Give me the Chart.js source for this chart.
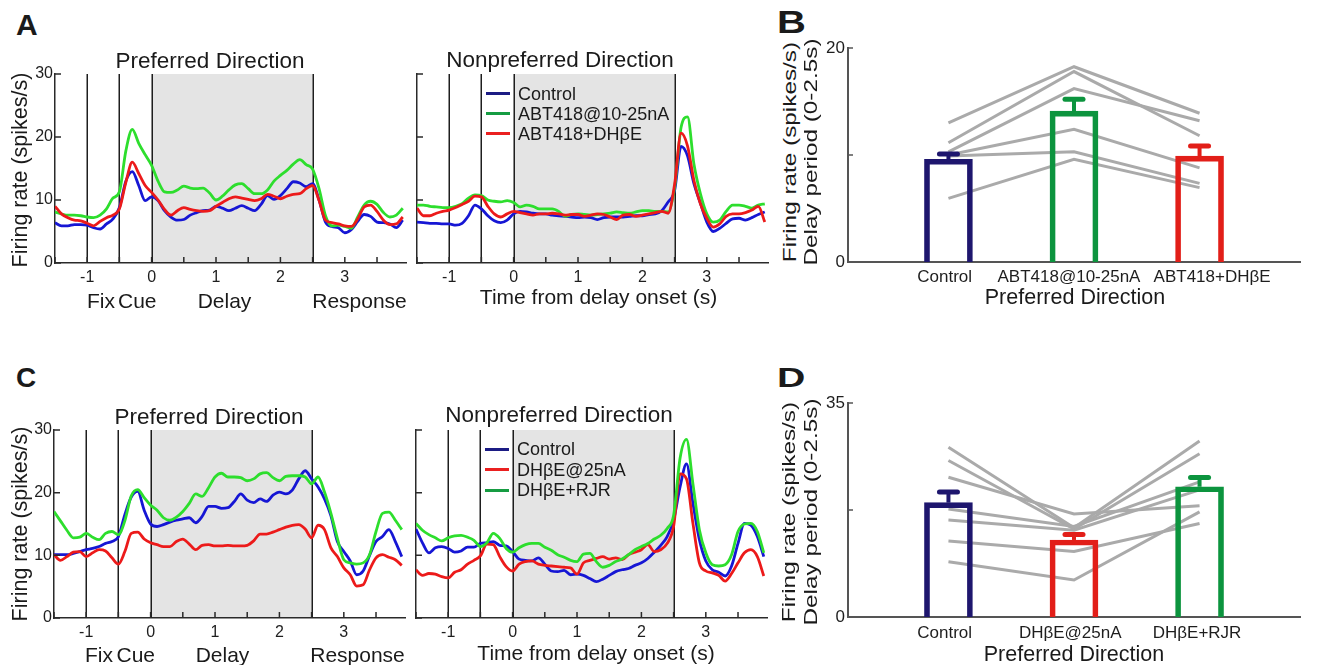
<!DOCTYPE html>
<html><head><meta charset="utf-8">
<script src="https://cdn.jsdelivr.net/npm/chart.js@4.4.0/dist/chart.umd.min.js"></script>
<style>
html,body{margin:0;padding:0;background:#fff;}
#fig{position:relative;width:1330px;height:665px;overflow:hidden;background:#fff;font-family:"Liberation Sans",Arial,Helvetica,sans-serif;color:#1a1a1a;}
#fig canvas{position:absolute;}
.t{position:absolute;white-space:nowrap;line-height:1;}
.sw{position:absolute;height:3px;}
</style></head><body><div id="fig"></div>
<script>
// ---------------- data ----------------
const TIME_S = [-1.5,-1.4,-1.3,-1.2,-1.1,-1.0,-0.9,-0.8,-0.7,-0.6,-0.5,-0.4,-0.3,-0.2,-0.1,0,
  0.1,0.2,0.3,0.4,0.5,0.6,0.7,0.8,0.9,1.0,1.1,1.2,1.3,1.4,1.5,1.6,1.7,1.8,1.9,2.0,
  2.1,2.2,2.3,2.4,2.5,2.6,2.7,2.8,2.9,3.0,3.1,3.2,3.3,3.4,3.5,3.6,3.7,3.8,3.9];

// Panel A, preferred direction
const A_PREF_CONTROL = [6.4,5.9,5.9,6.1,6.1,6.0,5.6,5.4,6.2,7.0,8.8,13.0,14.5,12.3,9.9,10.5,
  9.9,8.3,7.3,6.8,6.9,7.6,8.0,8.3,8.4,9.0,8.7,8.3,8.7,9.1,8.7,8.3,9.3,10.7,10.1,10.7,
  11.8,12.9,12.7,12.1,12.6,10.0,6.5,5.8,5.6,4.8,5.3,6.6,7.7,7.4,6.5,6.4,6.2,5.6,6.8];
const A_PREF_ABT418 = [8.1,7.8,7.6,7.6,7.5,7.3,7.2,7.6,8.6,10.3,11.3,17.8,21.2,19.0,17.2,15.5,
  13.0,11.3,11.2,11.6,12.2,11.9,11.8,11.9,11.1,10.0,10.6,11.6,12.4,12.6,11.8,11.0,11.0,11.6,13.0,13.9,
  14.7,15.7,16.4,15.6,14.9,11.8,7.5,5.9,6.0,5.8,5.5,7.3,9.2,9.8,9.3,8.0,7.3,7.6,8.7];
const A_PREF_ABT418_DHBE = [9.0,7.8,7.2,6.8,6.7,6.3,5.9,6.6,7.2,7.6,8.6,12.8,16.0,14.2,12.3,11.2,
  10.0,8.5,7.6,8.3,8.8,8.5,8.3,8.2,8.3,9.0,9.6,10.2,10.5,10.3,10.1,9.9,10.2,10.9,10.6,10.2,
  10.6,10.9,11.0,11.8,12.3,9.9,6.8,6.4,6.2,5.9,5.8,7.0,8.9,9.2,8.2,6.8,6.1,6.2,7.3];

// Panel A, nonpreferred direction
const A_NONPREF_CONTROL = [6.5,6.4,6.3,6.3,6.2,6.2,6.0,6.3,7.5,9.2,8.6,7.5,6.7,6.4,6.8,7.8,
  8.2,8.1,7.9,7.8,7.8,7.6,7.5,7.4,7.3,7.2,7.3,7.2,6.9,7.2,7.3,7.3,7.3,7.4,7.5,7.5,
  7.7,7.8,8.3,9.7,11.5,18.5,17.0,12.6,9.5,6.5,5.0,5.5,6.3,7.0,7.1,6.8,7.2,7.7,8.1];
const A_NONPREF_ABT418 = [9.2,9.2,9.0,8.9,8.8,8.8,9.0,9.4,10.3,10.8,10.7,10.0,9.8,9.7,9.9,9.6,
  8.9,9.2,9.0,8.6,8.6,8.6,8.2,7.4,7.7,7.8,7.7,7.6,7.7,7.8,7.9,8.1,8.0,7.9,8.1,8.3,
  8.3,8.2,8.2,8.1,12.0,21.5,23.2,15.7,11.0,7.8,6.5,6.8,8.2,9.2,9.2,9.0,8.7,9.2,9.4];
const A_NONPREF_ABT418_DHBE = [8.7,7.5,7.5,7.9,8.2,8.4,8.8,9.3,9.8,10.6,10.5,9.0,7.8,7.3,7.8,8.2,
  8.0,7.8,7.6,7.8,7.8,7.9,7.8,7.6,7.7,7.7,7.4,7.6,7.8,7.7,7.3,6.9,7.6,7.7,7.4,7.6,
  7.8,8.0,8.2,7.9,12.5,20.6,18.6,13.1,9.4,7.1,5.7,6.2,7.4,7.8,7.8,8.0,8.4,9.0,6.5];

// Panel C, preferred direction
const C_PREF_CONTROL = [10.1,10.1,10.1,10.3,10.6,10.9,11.1,11.4,11.9,12.2,13.0,16.5,19.3,20.2,17.2,15.0,
  14.6,14.9,15.3,15.6,15.8,16.0,15.2,16.2,17.8,17.8,17.5,17.6,18.6,19.8,18.8,18.4,19.0,18.6,19.6,20.1,
  19.8,20.4,22.2,23.5,22.2,20.9,19.0,16.3,12.2,10.6,9.1,6.9,7.5,10.0,12.2,13.0,14.1,12.2,9.8];
const C_PREF_DHBE = [10.1,9.2,9.8,10.5,10.6,9.8,10.4,10.9,10.7,9.6,8.6,10.6,13.5,13.7,12.6,12.0,
  11.7,11.4,11.4,12.2,12.6,11.8,10.9,11.6,11.7,11.5,11.5,11.6,11.5,11.5,11.6,12.3,13.4,13.4,13.7,14.1,
  14.5,14.8,14.9,14.2,12.8,14.8,14.1,11.2,9.8,8.0,6.9,5.1,5.3,7.7,9.6,10.1,9.7,9.3,8.4];
const C_PREF_DHBE_RJR = [17.0,15.5,14.0,12.8,12.9,13.5,12.9,12.5,13.5,13.8,13.3,15.5,19.5,20.5,19.2,18.0,
  17.2,16.0,15.6,16.1,17.0,18.3,19.8,19.4,20.8,22.5,23.1,22.5,22.5,22.4,21.9,22.2,23.0,23.2,22.4,21.9,
  22.6,22.7,22.7,22.5,21.4,22.5,20.1,16.7,12.7,9.3,8.8,8.6,8.8,10.1,13.8,16.7,16.9,15.6,14.1];

// Panel C, nonpreferred direction
const C_NONPREF_CONTROL = [14.2,12.0,10.4,11.2,11.4,11.1,10.5,10.7,11.3,11.3,11.9,12.0,12.2,11.6,11.5,10.6,
  9.4,9.2,9.1,9.6,8.6,7.5,7.4,7.6,6.9,7.0,6.8,6.3,5.8,6.2,6.8,7.4,7.7,7.9,8.4,8.8,
  9.5,10.5,11.6,13.0,15.6,20.9,24.6,18.3,12.5,9.1,7.7,7.3,6.7,8.3,11.9,15.1,14.8,13.0,9.8];
const C_NONPREF_DHBE = [7.7,6.8,7.1,7.0,6.6,6.4,7.3,7.7,8.6,9.2,9.9,11.8,11.7,9.8,8.2,7.5,
  8.6,9.0,9.1,8.6,8.4,8.3,8.2,8.1,8.0,7.0,8.8,9.2,9.5,9.8,9.4,9.6,9.3,10.1,10.5,10.9,
  11.7,10.6,10.9,11.9,14.6,23.0,22.2,15.1,8.8,7.5,7.2,6.8,5.9,7.1,8.8,10.4,10.9,9.8,6.7];
const C_NONPREF_DHBE_RJR = [15.1,14.0,13.3,12.8,12.3,12.8,13.1,13.2,12.9,12.4,11.4,12.0,13.5,12.7,11.1,10.5,
  11.2,11.7,11.9,11.9,11.3,10.8,10.1,9.7,9.2,9.0,10.2,10.3,9.0,8.1,8.4,9.0,9.4,10.1,10.9,11.4,
  11.9,12.6,13.2,14.3,16.4,25.5,28.5,21.4,14.1,10.4,8.5,8.3,8.5,10.1,13.8,15.0,15.1,13.8,10.4];

const X_TICKS_S = [-1.5,-1,-0.5,0,0.5,1,1.5,2,2.5,3,3.5];
const X_TICK_LABELS_S = [-1,0,1,2,3];
const Y_TICKS_RATE = [0,10,20,30];
const EVENT_TIMES = [-1,-0.5,0,2.5];
const DELAY_PERIOD = [0,2.5];

// Bar panels
const CAT_X = [1,2,3];
const B_CATEGORIES = ['Control','ABT418@10-25nA','ABT418+DH\u03B2E'];
const B_LABEL_X = [0.97,1.96,3.1];
const B_MEANS = [9.6,14.1,9.9];
const B_SEM = [0.5,1.1,0.95];
const B_CELLS = [
  [13.0,18.25,13.9],
  [11.15,17.8,11.8],
  [10.3,16.2,13.2],
  [10.0,12.4,8.8],
  [9.9,10.3,7.35],
  [5.95,9.6,6.95]
];
const B_Y_TICKS = [0,10,20];
const B_Y_LABELED = [0,20];

const D_CATEGORIES = ['Control','DH\u03B2E@25nA','DH\u03B2E+RJR'];
const D_LABEL_X = [0.97,1.97,2.98];
const D_MEANS = [18.7,12.6,21.3];
const D_SEM = [1.75,0.9,1.5];
const D_CELLS = [
  [27.75,14.6,28.8],
  [25.6,14.4,26.7],
  [22.85,16.85,18.2],
  [17.66,14.8,22.1],
  [15.87,14.2,20.8],
  [12.43,10.7,15.3],
  [9.05,6.05,17.2]
];
const D_Y_TICKS = [0,17.5,35];
const D_Y_LABELED = [0,35];

// ---------------- styles ----------------
const LINE_BLUE = 'rgb(22,22,212)', LINE_GREEN = 'rgb(45,222,45)', LINE_RED = 'rgb(236,26,26)';
const LEG_BLUE = 'rgb(28,28,132)', LEG_GREEN = 'rgb(22,156,66)', LEG_RED = 'rgb(234,32,32)';
const BAR_NAVY = 'rgb(30,22,110)', BAR_GREEN = 'rgb(12,148,62)', BAR_RED = 'rgb(226,30,24)';
const CELL_GRAY = 'rgb(170,170,170)';
const AXIS = '#2a2a2a';
const FONT = '"Liberation Sans", Arial, Helvetica, sans-serif';

const fig = document.getElementById('fig');
const ASC = 0.8465;
function label(text, x, base, size, o) {
  o = o || {};
  const d = document.createElement('div');
  d.className = 't'; d.textContent = text;
  d.style.fontSize = size + 'px';
  d.style.top = (base - ASC * size) + 'px';
  d.style.left = x + 'px';
  if (o.bold) d.style.fontWeight = 'bold';
  let tr = '';
  if (o.center) tr += 'translateX(-50%) ';
  if (o.sx) { tr += 'scaleX(' + o.sx + ')'; d.style.transformOrigin = o.center ? '50% 50%' : '0 50%'; }
  d.style.transform = tr;
  fig.appendChild(d);
}
function vlabel(text, cx, cy, size, stretch) {
  const d = document.createElement('div');
  d.className = 't'; d.textContent = text;
  d.style.fontSize = size + 'px';
  d.style.left = cx + 'px'; d.style.top = cy + 'px';
  d.style.transform = 'translate(-50%,-50%) rotate(-90deg) scaleX(' + (stretch || 1) + ')';
  fig.appendChild(d);
}
function legend(items, x0, x1, tx, size) {
  items.forEach(it => {
    const s = document.createElement('div');
    s.className = 'sw';
    s.style.left = x0 + 'px'; s.style.width = (x1 - x0) + 'px';
    s.style.top = (it.y - 1.5) + 'px'; s.style.background = it.color;
    fig.appendChild(s);
    label(it.text, tx, it.y + 0.358 * size, size);
  });
}

// ---------------- plugins ----------------
const eventPlugin = {
  id: 'events',
  beforeDatasetsDraw(chart, args, opts) {
    const {ctx, chartArea: a, scales: {x}} = chart;
    ctx.save();
    const b0 = x.getPixelForValue(opts.band[0]), b1 = x.getPixelForValue(opts.band[1]);
    ctx.fillStyle = '#e4e4e4';
    ctx.fillRect(b0, a.top, b1 - b0, a.bottom - a.top - 1);
    ctx.strokeStyle = '#1e1e1e'; ctx.lineWidth = 1.5;
    ctx.beginPath();
    opts.lines.forEach(v => { const px = Math.round(x.getPixelForValue(v)) + 0.25; ctx.moveTo(px, a.top); ctx.lineTo(px, a.bottom); });
    ctx.stroke();
    ctx.restore();
  }
};
const inTicks = {
  id: 'inTicks',
  afterDraw(chart, args, opts) {
    const {ctx, chartArea: a, scales: {x, y}} = chart;
    ctx.save(); ctx.strokeStyle = opts.color; ctx.lineWidth = opts.width;
    ctx.beginPath();
    (opts.x || []).forEach(v => { const px = x.getPixelForValue(v); ctx.moveTo(px, a.bottom); ctx.lineTo(px, a.bottom - opts.len); });
    (opts.y || []).forEach(v => { const py = y.getPixelForValue(v); ctx.moveTo(a.left, py); ctx.lineTo(a.left + opts.len, py); });
    ctx.stroke(); ctx.restore();
  }
};
const errPlugin = {
  id: 'errBars',
  afterDatasetsDraw(chart, args, opts) {
    const {ctx, scales: {x, y}} = chart;
    ctx.save();
    opts.means.forEach((m, i) => {
      const px = x.getPixelForValue(opts.xs[i]);
      const y0 = y.getPixelForValue(m), y1 = y.getPixelForValue(m + opts.sems[i]);
      ctx.strokeStyle = opts.colors[i];
      ctx.lineCap = 'butt'; ctx.lineWidth = 4;
      ctx.beginPath(); ctx.moveTo(px, y0); ctx.lineTo(px, y1); ctx.stroke();
      ctx.lineCap = 'round'; ctx.lineWidth = 5;
      ctx.beginPath(); ctx.moveTo(px - 9, y1); ctx.lineTo(px + 9, y1); ctx.stroke();
    });
    ctx.restore();
  }
};

function makeCanvas(area, pad) {
  const W = area.r - area.l + pad.l + pad.r, H = area.b - area.t + pad.t + pad.b;
  const c = document.createElement('canvas');
  c.width = W; c.height = H;
  c.style.left = (area.l - pad.l) + 'px'; c.style.top = (area.t - pad.t) + 'px';
  c.style.width = W + 'px'; c.style.height = H + 'px';
  fig.appendChild(c);
  return c;
}

function linePanel(area, series, showYLabels) {
  const pad = {l: 45, t: 10, r: 8, b: 32};
  const c = makeCanvas(area, pad);
  new Chart(c, {
    type: 'line',
    data: {
      datasets: series.map(s => ({
        data: TIME_S.map((t, j) => ({x: t, y: s.values[j]})),
        borderColor: s.color, borderWidth: 2.8, pointRadius: 0,
        cubicInterpolationMode: 'monotone', fill: false, order: s.order
      }))
    },
    options: {
      responsive: false, animation: false, devicePixelRatio: 1,
      layout: {padding: {left: 0, top: pad.t, right: pad.r, bottom: 0}},
      plugins: {
        legend: {display: false}, tooltip: {enabled: false},
        events: {band: DELAY_PERIOD, lines: EVENT_TIMES},
        inTicks: {x: X_TICKS_S, y: Y_TICKS_RATE, len: 6, color: AXIS, width: 1.5}
      },
      scales: {
        x: {
          type: 'linear', min: -1.5, max: 3.95,
          grid: {display: false, drawTicks: false, tickLength: 0},
          border: {display: true, color: AXIS, width: 1.5},
          ticks: {
            font: {family: FONT, size: 16}, color: '#1e1e1e', padding: 5, autoSkip: false, maxRotation: 0,
            callback: v => X_TICK_LABELS_S.includes(v) ? String(v) : ''
          },
          afterBuildTicks: s => { s.ticks = X_TICKS_S.map(v => ({value: v})); },
          afterFit: s => { s.height = pad.b; s.paddingLeft = 0; s.paddingRight = 0; }
        },
        y: {
          type: 'linear', min: 0, max: 30,
          grid: {display: false, drawTicks: false, tickLength: 0},
          border: {display: true, color: AXIS, width: 1.5},
          ticks: {
            font: {family: FONT, size: 16}, color: '#1e1e1e', padding: 2,
            callback: v => showYLabels ? String(v) : ''
          },
          afterBuildTicks: s => { s.ticks = Y_TICKS_RATE.map(v => ({value: v})); },
          afterFit: s => { s.width = pad.l; s.paddingTop = 0; s.paddingBottom = 0; }
        }
      }
    },
    plugins: [eventPlugin, inTicks]
  });
}

function barPanel(area, cats, labelX, means, sems, cells, colors, ymax, yTicks, yLabeled, xPad) {
  const pad = {l: 40, t: 12, r: 15, b: 30};
  const c = makeCanvas(area, pad);
  const datasets = [{
    type: 'bar',
    data: CAT_X.map((x, i) => ({x: x, y: means[i]})),
    borderColor: colors, backgroundColor: 'rgba(0,0,0,0)',
    borderWidth: 5, borderSkipped: 'start', barThickness: 48, order: 0
  }];
  cells.forEach(cell => datasets.push({
    type: 'line',
    data: CAT_X.map((x, i) => ({x: x, y: cell[i]})),
    borderColor: CELL_GRAY, borderWidth: 3, pointRadius: 0, tension: 0, fill: false, order: 1
  }));
  new Chart(c, {
    type: 'bar',
    data: {datasets: datasets},
    options: {
      responsive: false, animation: false, devicePixelRatio: 1,
      layout: {padding: {left: 0, top: pad.t, right: pad.r, bottom: 0}},
      plugins: {
        legend: {display: false}, tooltip: {enabled: false},
        errBars: {xs: CAT_X, means: means, sems: sems, colors: colors},
        inTicks: {x: [], y: yTicks, len: 5, color: '#555', width: 1.5}
      },
      scales: {
        x: {
          type: 'linear', min: 0.2, max: 3.8, offset: false,
          grid: {display: false, drawTicks: false, tickLength: 0},
          border: {display: true, color: '#555', width: 2},
          ticks: {
            font: {family: FONT, size: 17}, color: '#1e1e1e', padding: xPad, autoSkip: false, maxRotation: 0,
            callback: (v, i) => cats[i]
          },
          afterBuildTicks: s => { s.ticks = labelX.map(v => ({value: v})); },
          afterFit: s => { s.height = pad.b; s.paddingLeft = 0; s.paddingRight = 0; }
        },
        y: {
          type: 'linear', min: 0, max: ymax,
          grid: {display: false, drawTicks: false, tickLength: 0},
          border: {display: true, color: '#555', width: 2},
          ticks: {
            font: {family: FONT, size: 17}, color: '#1e1e1e', padding: 3,
            callback: v => yLabeled.includes(v) ? String(v) : ''
          },
          afterBuildTicks: s => { s.ticks = yTicks.map(v => ({value: v})); },
          afterFit: s => { s.width = pad.l; s.paddingTop = 0; s.paddingBottom = 0; }
        }
      }
    },
    plugins: [errPlugin, inTicks]
  });
}

// ---------------- panels ----------------
linePanel({l: 55, r: 406, t: 74, b: 263}, [
  {values: A_PREF_CONTROL, color: LINE_BLUE, order: 2},
  {values: A_PREF_ABT418, color: LINE_GREEN, order: 1},
  {values: A_PREF_ABT418_DHBE, color: LINE_RED, order: 0}
], true);
linePanel({l: 417, r: 768, t: 74, b: 263}, [
  {values: A_NONPREF_CONTROL, color: LINE_BLUE, order: 2},
  {values: A_NONPREF_ABT418, color: LINE_GREEN, order: 1},
  {values: A_NONPREF_ABT418_DHBE, color: LINE_RED, order: 0}
], false);
linePanel({l: 54, r: 405, t: 430, b: 618}, [
  {values: C_PREF_CONTROL, color: LINE_BLUE, order: 2},
  {values: C_PREF_DHBE, color: LINE_RED, order: 1},
  {values: C_PREF_DHBE_RJR, color: LINE_GREEN, order: 0}
], true);
linePanel({l: 416, r: 767, t: 430, b: 618}, [
  {values: C_NONPREF_CONTROL, color: LINE_BLUE, order: 2},
  {values: C_NONPREF_DHBE, color: LINE_RED, order: 1},
  {values: C_NONPREF_DHBE_RJR, color: LINE_GREEN, order: 0}
], false);

barPanel({l: 848, r: 1300, t: 48, b: 262}, B_CATEGORIES, B_LABEL_X, B_MEANS, B_SEM, B_CELLS,
  [BAR_NAVY, BAR_GREEN, BAR_RED], 20, B_Y_TICKS, B_Y_LABELED, 5);
barPanel({l: 848, r: 1300, t: 403, b: 617}, D_CATEGORIES, D_LABEL_X, D_MEANS, D_SEM, D_CELLS,
  [BAR_NAVY, BAR_RED, BAR_GREEN], 35, D_Y_TICKS, D_Y_LABELED, 6);

// ---------------- text ----------------
label('A', 16, 35, 30, {bold: true});
label('B', 777, 33, 32, {bold: true, sx: 1.25});
label('C', 16, 388, 28, {bold: true});
label('D', 777, 388, 28, {bold: true, sx: 1.4});

label('Preferred Direction', 210, 69, 22.5, {center: true});
label('Nonpreferred Direction', 560, 68.5, 22.5, {center: true});
label('Preferred Direction', 209, 425, 22.5, {center: true});
label('Nonpreferred Direction', 559, 423.5, 22.5, {center: true});

vlabel('Firing rate (spikes/s)', 21, 169.5, 21.5);
vlabel('Firing rate (spikes/s)', 21, 524, 21.5);

label('Fix', 87, 308, 21);
label('Cue', 118, 308, 21);
label('Delay', 224.5, 308, 21, {center: true});
label('Response', 359.5, 308, 21, {center: true});
label('Time from delay onset (s)', 598.5, 304, 21, {center: true});

label('Fix', 85, 661.5, 21);
label('Cue', 116.5, 661.5, 21);
label('Delay', 222.5, 661.5, 21, {center: true});
label('Response', 357.5, 661.5, 21, {center: true});
label('Time from delay onset (s)', 596, 660, 21, {center: true});

legend([
  {text: 'Control', color: LEG_BLUE, y: 93.3},
  {text: 'ABT418@10-25nA', color: LEG_GREEN, y: 113.5},
  {text: 'ABT418+DH\u03B2E', color: LEG_RED, y: 133.5}
], 486, 510, 518, 18);
legend([
  {text: 'Control', color: LEG_BLUE, y: 449},
  {text: 'DH\u03B2E@25nA', color: LEG_RED, y: 469.5},
  {text: 'DH\u03B2E+RJR', color: LEG_GREEN, y: 490}
], 485, 509, 517, 18);

vlabel('Firing rate (spikes/s)', 789, 152, 19, 1.28);
vlabel('Delay period (0-2.5s)', 809.5, 152, 19, 1.28);
vlabel('Firing rate (spikes/s)', 788, 512, 19, 1.28);
vlabel('Delay period (0-2.5s)', 809.5, 512, 19, 1.28);

label('Preferred Direction', 1075, 305, 21.5, {center: true});
label('Preferred Direction', 1074, 662, 21.5, {center: true});
</script>
</body></html>
